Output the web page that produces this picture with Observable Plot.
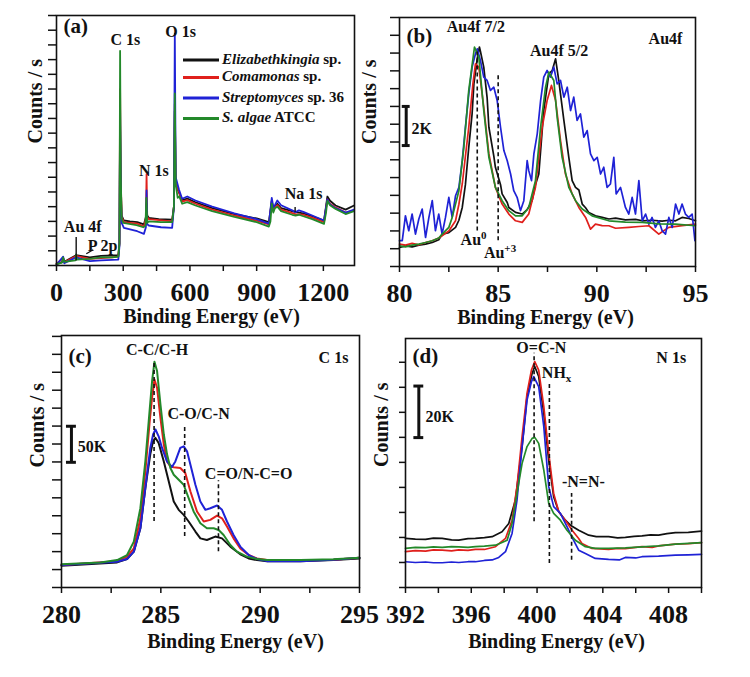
<!DOCTYPE html>
<html>
<head>
<meta charset="utf-8">
<script src="https://cdn.jsdelivr.net/npm/d3@7"></script>
<script src="https://cdn.jsdelivr.net/npm/@observablehq/plot@0.6"></script>
<style>
  body { margin: 0; background: #fff; }
  #fig { position: relative; width: 750px; height: 677px; background: #fff; overflow: hidden; }
  #fig svg { position: absolute; overflow: visible; background: transparent; }
</style>
</head>
<body>
<div id="fig"></div>
<script>
// ---- samples and colours -------------------------------------------------
const seriesNames = ["Elizabethkingia sp.", "Comamonas sp.", "Streptomyces sp. 36", "S. algae ATCC"];
const legendItalic = ["Elizabethkingia", "Comamonas", "Streptomyces", "S. algae"];
const legendPlain = [" sp.", " sp.", " sp. 36", " ATCC"];
const seriesColors = ["#111111", "#e0201c", "#1f22d6", "#23892a"];

// ---- (a) survey spectra: [binding energy eV, counts (tick units)] --------
const surveyElizabethkingia = [[0,0.10],[25,0.22],[30,0.50],[35,0.25],[88,0.70],[150,0.55],[200,0.65],[250,0.68],[278,0.70],[283,1.5],[286,9.5],[289,5.5],[293,3.4],[303,3.06],[330,3.0],[363,2.95],[393,2.79],[402,3.3],[405,4.2],[408,3.4],[415,3.24],[460,3.15],[520,3.11],[528,4.0],[532,10.5],[536,5.5],[551,4.95],[565,4.45],[588,4.55],[625,4.30],[700,3.9],[800,3.5],[900,3.2],[955,2.95],[968,4.4],[975,3.8],[982,4.0],[993,4.2],[1010,3.9],[1075,3.63],[1110,3.55],[1150,3.35],[1203,3.05],[1218,4.69],[1230,4.40],[1255,4.08],[1300,3.8],[1338,4.08]];
const surveyComamonas = [[0,0.10],[30,0.52],[35,0.22],[88,0.65],[150,0.45],[250,0.55],[278,0.6],[283,1.5],[286,12.0],[289,5.8],[293,3.3],[303,2.95],[363,2.85],[393,2.65],[402,3.2],[405,6.2],[408,3.3],[415,3.15],[520,3.0],[528,4.0],[532,11.0],[536,5.5],[551,5.0],[565,4.35],[588,4.45],[625,4.2],[700,3.8],[800,3.4],[900,3.05],[955,2.8],[968,4.35],[975,3.7],[982,3.95],[993,4.1],[1010,3.8],[1075,3.5],[1110,3.45],[1150,3.25],[1203,2.95],[1218,4.5],[1230,4.2],[1255,3.95],[1300,3.6],[1338,3.75]];
const surveyStreptomyces = [[0,0.05],[30,0.60],[35,0.15],[88,0.55],[150,0.30],[200,0.35],[250,0.38],[278,0.40],[283,1.3],[286,10.7],[289,5.0],[293,2.9],[303,2.56],[363,2.33],[393,2.15],[402,2.6],[405,5.1],[408,2.8],[415,2.72],[470,2.6],[520,2.56],[528,4.0],[532,15.76],[536,6.0],[551,5.15],[565,4.54],[588,4.69],[625,4.42],[700,4.0],[800,3.55],[900,3.15],[955,2.85],[968,4.6],[975,3.97],[982,4.1],[993,4.42],[1010,4.1],[1060,3.75],[1075,3.63],[1090,3.75],[1110,3.65],[1150,3.4],[1203,3.06],[1218,4.5],[1230,4.15],[1255,3.9],[1300,3.6],[1338,3.8]];
const surveyAlgae = [[0,0.10],[25,0.20],[30,0.55],[35,0.25],[85,0.35],[88,0.75],[92,0.40],[150,0.45],[200,0.55],[250,0.55],[278,0.60],[283,1.5],[286,14.6],[289,6.0],[293,3.2],[300,2.90],[320,2.85],[360,2.75],[390,2.60],[400,2.70],[404,4.6],[408,2.9],[415,3.00],[470,2.95],[520,2.95],[528,4.0],[532,11.7],[536,5.5],[545,4.6],[552,4.7],[565,4.2],[588,4.31],[625,4.08],[700,3.7],[800,3.3],[900,2.95],[955,2.65],[962,3.0],[968,4.2],[975,3.6],[982,3.9],[993,4.0],[1010,3.7],[1060,3.45],[1075,3.40],[1090,3.45],[1110,3.35],[1150,3.15],[1203,2.83],[1212,3.6],[1218,4.4],[1230,4.1],[1255,3.85],[1300,3.5],[1338,3.7]];

// ---- (b) Au 4f ------------------------------------------------------------
const au4fElizabethkingia = [[80.00,1.07],[80.30,1.16],[80.64,1.10],[80.98,1.20],[81.32,1.26],[81.66,1.35],[81.99,1.50],[82.16,1.82],[82.50,1.90],[82.84,2.20],[83.01,2.60],[83.18,3.32],[83.34,4.60],[83.51,6.70],[83.68,8.60],[83.77,10.27],[83.94,11.70],[84.05,12.34],[84.10,12.10],[84.27,11.21],[84.44,9.50],[84.53,7.83],[84.78,6.20],[84.86,5.58],[85.12,4.60],[85.20,4.08],[85.46,3.60],[85.54,3.32],[85.88,3.04],[86.22,2.95],[86.47,3.20],[86.72,3.70],[86.89,4.60],[87.06,5.20],[87.31,8.77],[87.57,10.84],[87.74,11.02],[87.91,11.68],[88.07,10.46],[88.33,8.21],[88.58,6.14],[88.75,4.83],[88.92,4.45],[89.09,4.30],[89.26,3.51],[89.43,3.30],[89.59,3.04],[89.93,2.85],[90.27,2.76],[90.61,2.67],[90.95,2.72],[91.45,2.62],[91.96,2.65],[92.30,2.57],[92.80,2.60],[93.31,2.55],[93.65,2.60],[93.99,2.57],[94.32,2.76],[94.66,2.70],[95.00,2.57]];
const au4fComamonas = [[80.00,1.26],[80.30,1.20],[80.64,1.30],[80.98,1.22],[81.32,1.35],[81.66,1.45],[81.99,1.60],[82.16,1.73],[82.50,2.00],[82.84,2.57],[83.01,3.50],[83.18,4.64],[83.34,6.20],[83.51,7.83],[83.72,10.27],[83.85,11.40],[84.02,11.21],[84.27,8.96],[84.53,6.33],[84.86,4.45],[85.20,3.51],[85.54,2.95],[85.88,2.57],[86.22,2.48],[86.55,2.95],[86.89,4.45],[87.23,7.83],[87.48,9.33],[87.70,10.18],[87.91,9.33],[88.16,7.08],[88.41,5.20],[88.75,4.08],[89.09,3.32],[89.43,2.76],[89.68,2.10],[89.93,2.38],[90.27,2.30],[90.61,2.29],[90.95,2.15],[91.62,2.20],[92.13,2.25],[92.64,2.29],[93.14,1.82],[93.31,1.95],[93.65,2.20],[94.32,2.30],[95.00,2.38]];
const au4fStreptomyces = [[80.00,1.45],[80.14,1.45],[80.30,2.85],[80.47,2.01],[80.64,2.95],[80.81,1.82],[80.98,2.67],[81.15,3.23],[81.32,1.63],[81.49,2.76],[81.66,3.70],[81.82,2.01],[81.99,2.95],[82.16,1.82],[82.33,2.76],[82.50,3.89],[82.67,2.76],[82.84,3.98],[83.01,4.45],[83.18,5.95],[83.34,7.83],[83.51,9.71],[83.68,11.21],[83.85,11.96],[83.94,12.24],[84.10,11.59],[84.27,10.65],[84.44,10.46],[84.61,9.90],[84.78,10.08],[84.95,9.33],[85.12,7.83],[85.29,6.52],[85.46,5.95],[85.63,5.20],[85.79,4.26],[85.96,3.89],[86.13,3.14],[86.30,3.70],[86.47,5.95],[86.55,5.39],[86.69,4.83],[86.81,6.33],[86.98,7.46],[87.15,9.33],[87.31,10.65],[87.48,11.02],[87.65,10.65],[87.82,11.21],[87.99,10.27],[88.16,10.46],[88.33,9.52],[88.50,10.08],[88.67,8.77],[88.83,9.52],[89.00,8.21],[89.17,8.58],[89.34,7.27],[89.51,7.64],[89.68,6.33],[89.85,5.95],[90.02,6.14],[90.19,5.20],[90.35,5.58],[90.52,4.45],[90.69,4.64],[90.86,6.14],[90.98,4.08],[91.20,4.45],[91.45,3.32],[91.62,2.95],[91.79,3.89],[91.96,2.95],[92.13,4.83],[92.30,2.57],[92.47,2.95],[92.64,2.38],[92.80,2.76],[92.97,2.20],[93.14,2.57],[93.31,2.01],[93.48,1.82],[93.65,2.76],[93.82,2.20],[93.99,3.51],[94.16,2.95],[94.32,3.51],[94.49,2.95],[94.66,2.76],[94.83,2.95],[94.97,1.45]];
const au4fAlgae = [[80.00,1.16],[80.30,1.10],[80.64,1.20],[80.98,1.26],[81.32,1.35],[81.66,1.45],[81.99,1.60],[82.16,1.82],[82.50,2.20],[82.67,2.76],[83.01,4.26],[83.26,6.70],[83.51,9.90],[83.80,12.34],[84.02,11.77],[84.27,8.77],[84.53,6.14],[84.86,4.45],[85.20,3.70],[85.54,3.14],[85.88,2.85],[86.22,2.85],[86.55,3.32],[86.89,4.83],[87.15,7.83],[87.40,10.08],[87.57,10.93],[87.82,10.46],[87.99,8.39],[88.24,6.14],[88.58,4.45],[88.92,3.70],[89.26,3.23],[89.76,2.85],[90.61,2.57],[91.45,2.50],[92.30,2.48],[93.14,2.40],[93.99,2.38],[95.00,2.29]];

// ---- (c) C 1s -------------------------------------------------------------
const c1sElizabethkingia = [[280.00,1.21],[282.80,1.40],[283.30,1.59],[283.64,2.00],[283.97,3.30],[284.22,5.54],[284.47,7.44],[284.61,8.15],[284.73,8.34],[284.89,8.06],[285.15,7.03],[285.40,5.91],[285.65,4.79],[285.90,4.33],[286.15,4.05],[286.40,3.68],[286.74,3.12],[286.99,2.74],[287.32,2.65],[287.74,2.84],[288.08,2.74],[288.50,2.28],[289.00,1.85],[289.42,1.62],[289.84,1.53],[290.34,1.47],[292.02,1.47],[293.69,1.53],[295.00,1.62]];
const c1sComamonas = [[280.00,1.25],[282.80,1.47],[283.30,1.72],[283.64,2.18],[283.97,3.86],[284.22,6.47],[284.44,9.27],[284.56,10.58],[284.68,11.60],[284.81,11.14],[284.98,9.46],[285.15,7.97],[285.31,7.03],[285.48,6.75],[285.65,6.70],[285.98,6.66],[286.23,6.38],[286.49,5.35],[286.82,4.24],[287.16,3.68],[287.49,3.77],[287.83,4.01],[288.08,3.86],[288.33,3.40],[288.66,2.74],[289.00,2.18],[289.42,1.81],[289.84,1.62],[290.34,1.53],[292.02,1.50],[293.69,1.55],[295.00,1.66]];
const c1sStreptomyces = [[280.00,1.25],[282.80,1.44],[283.30,1.59],[283.64,2.00],[283.97,3.30],[284.22,5.54],[284.47,7.78],[284.61,8.53],[284.73,8.81],[284.89,8.43],[285.06,7.78],[285.31,7.03],[285.56,6.72],[285.73,7.03],[285.98,7.78],[286.15,7.87],[286.32,7.59],[286.49,6.85],[286.74,5.73],[286.99,4.79],[287.24,4.33],[287.49,4.42],[287.83,4.57],[288.08,4.33],[288.33,3.68],[288.66,2.93],[289.00,2.28],[289.42,1.81],[289.84,1.59],[290.34,1.47],[292.02,1.47],[293.69,1.55],[295.00,1.66]];
const c1sAlgae = [[280.00,1.29],[281.96,1.40],[282.80,1.53],[283.30,1.81],[283.64,2.56],[283.97,4.42],[284.22,7.03],[284.39,9.27],[284.56,11.51],[284.68,12.59],[284.81,12.07],[284.98,10.21],[285.15,8.53],[285.31,7.44],[285.48,6.66],[285.65,6.29],[285.90,6.01],[286.15,5.73],[286.40,4.98],[286.65,4.24],[286.99,3.58],[287.32,3.30],[287.66,3.30],[287.91,3.21],[288.16,2.93],[288.50,2.37],[288.83,2.00],[289.33,1.72],[289.84,1.59],[290.34,1.53],[292.02,1.53],[293.69,1.57],[295.00,1.66]];

// ---- (d) N 1s -------------------------------------------------------------
const n1sElizabethkingia = [[392.00,1.96],[392.6,1.93],[393.22,1.92],[393.7,1.97],[394.23,1.96],[394.8,1.90],[395.24,1.89],[395.8,1.95],[396.25,1.96],[396.8,1.99],[397.27,2.03],[397.87,2.23],[398.28,2.56],[398.68,3.49],[399.09,5.63],[399.39,7.63],[399.70,8.56],[399.86,8.83],[400.10,8.43],[400.41,6.96],[400.71,5.09],[401.01,3.63],[401.32,3.03],[401.72,2.69],[402.03,2.49],[402.53,2.29],[403.14,2.09],[403.6,2.03],[404.35,2.03],[404.9,1.98],[405.37,2.00],[405.9,2.04],[406.38,2.06],[406.9,2.10],[407.39,2.09],[407.9,2.15],[408.41,2.19],[409.2,2.20],[410.00,2.25]];
const n1sComamonas = [[392.00,1.43],[392.6,1.47],[393.22,1.45],[393.7,1.50],[394.23,1.49],[394.8,1.46],[395.24,1.50],[395.8,1.48],[396.25,1.52],[396.8,1.52],[397.47,1.63],[398.08,1.96],[398.48,2.69],[398.78,4.03],[399.09,6.03],[399.39,7.76],[399.66,8.69],[399.86,9.03],[400.10,8.69],[400.41,7.23],[400.71,5.36],[401.01,3.76],[401.32,3.03],[401.72,2.69],[402.13,2.29],[402.53,1.96],[402.73,1.76],[403.34,1.56],[404.35,1.52],[404.9,1.56],[405.37,1.55],[406.38,1.63],[407.0,1.60],[407.39,1.66],[408.41,1.73],[409.2,1.75],[410.00,1.79]];
const n1sStreptomyces = [[392.00,1.03],[392.6,1.00],[393.22,1.02],[393.7,0.99],[394.23,0.99],[394.8,1.02],[395.24,1.00],[395.8,1.03],[396.25,1.03],[396.8,1.08],[397.27,1.10],[397.67,1.20],[398.08,1.43],[398.48,2.16],[398.78,3.49],[399.09,5.63],[399.39,7.49],[399.66,8.23],[399.80,8.43],[400.10,8.03],[400.41,6.43],[400.71,4.03],[401.01,3.23],[401.42,2.96],[401.82,2.43],[402.13,2.00],[402.53,1.49],[402.94,1.36],[403.54,1.16],[404.35,1.12],[405.0,1.10],[405.37,1.20],[406.0,1.18],[406.38,1.23],[407.39,1.25],[408.41,1.29],[409.2,1.30],[410.00,1.32]];
const n1sAlgae = [[392.00,1.56],[392.6,1.60],[393.22,1.59],[393.7,1.62],[394.23,1.60],[394.8,1.63],[395.24,1.62],[395.8,1.60],[396.25,1.63],[396.8,1.65],[397.47,1.69],[397.87,1.80],[398.18,1.89],[398.48,2.56],[398.78,3.76],[399.09,4.96],[399.39,5.63],[399.70,5.96],[399.86,6.00],[400.10,5.76],[400.41,4.69],[400.71,3.36],[401.01,2.96],[401.42,2.69],[401.82,2.29],[402.33,1.89],[402.94,1.63],[403.54,1.56],[404.35,1.56],[405.37,1.58],[406.38,1.62],[407.39,1.66],[408.41,1.73],[410.00,1.79]];

// ---- axis ticks -------------------------------------------------------------
const surveyTicks = [0, 300, 600, 900, 1200];
const surveyMinorTicks = [150, 450, 750, 1050];
const au4fTicks = [80, 85, 90, 95];
const au4fMinorTicks = [82.5, 87.5, 92.5];
const c1sTicks = [280, 285, 290, 295];
const c1sMinorTicks = [282.5, 287.5, 292.5];
const n1sTicks = [392, 396, 400, 404, 408];
const n1sMinorTicks = [394, 398, 402, 406, 410];

// ---- annotations ----------------------------------------------------------
const surveyPeakLabels = [
  {text: "C 1s", x: 310, y: 15.31}, {text: "O 1s", x: 558, y: 15.92},
  {text: "N 1s", x: 438, y: 6.46}, {text: "Na 1s", x: 1111, y: 4.88},
  {text: "Au 4f", x: 118, y: 2.61}, {text: "P 2p", x: 207, y: 1.36}
];
const surveyPointers = [
  {x1: 88.5, y1: 0.34, x2: 88.5, y2: 1.93},
  {x1: 134, y1: 0.8, x2: 165, y2: 1.07},
  {x1: 1073, y1: 3.63, x2: 1073, y2: 3.97}
];
const au4fLabels = [
  {text: "Au4f 7/2", x: 83.87, y: 13.46}, {text: "Au4f 5/2", x: 88.09, y: 12.15},
  {text: "Au4f", x: 93.48, y: 12.81}
];
const au4fStates = [{base: "Au", sup: "0", x: 83.78, y: 1.48}, {base: "Au", sup: "+3", x: 85.12, y: 0.75}];
const au4fMarkers = [{x: 83.94, y1: 2.0, y2: 12.15}, {x: 85.0, y1: 1.45, y2: 10.74}];
const au4fScaleBar = {x: 80.34, y1: 6.8, y2: 9.0, cap: 0.2, text: "2K", tx: 80.61, ty: 7.74};

const c1sLabels = [
  {text: "C-C/C-H", x: 284.81, y: 13.23}, {text: "C-O/C-N", x: 286.9, y: 9.7},
  {text: "C=O/N-C=O", x: 289.42, y: 6.36}, {text: "C 1s", x: 293.69, y: 12.82}
];
const c1sMarkers = [{x: 284.66, y1: 3.68, y2: 12.63}, {x: 286.2, y1: 2.84, y2: 8.94}, {x: 287.9, y1: 2.0, y2: 5.95}];
const c1sScaleBar = {x: 280.5, y1: 6.98, y2: 8.99, cap: 0.25, text: "50K", tx: 280.82, ty: 7.82};

const n1sLabels = [
  {text: "O=C-N", x: 400.26, y: 9.56}, {text: "-N=N-", x: 402.82, y: 4.23},
  {text: "N 1s", x: 408.16, y: 9.16}
];
const n1sSubLabels = [{base: "NH", sub: "x", x: 401.22, y: 8.56}];
const n1sMarkers = [{x: 399.82, y1: 2.63, y2: 9.36}, {x: 400.75, y1: 0.96, y2: 8.16}, {x: 402.1, y1: 1.09, y2: 3.76}];
const n1sScaleBar = {x: 392.81, y1: 5.99, y2: 8.05, cap: 0.3, text: "20K", tx: 393.22, ty: 6.83};

// ---- drawing --------------------------------------------------------------
const FONT = "'Liberation Serif','Times New Roman',serif";
const INK = "#111111";
const fig = document.getElementById("fig");

function drawPanel(cfg) {
  const txt = {fontFamily: FONT, fontWeight: "bold", fill: INK};
  const marks = [
    Plot.axisY(cfg.yTicks, {tickSize: cfg.yTickSize, tickFormat: () => "", label: null, strokeWidth: 1.5, stroke: INK}),
    Plot.axisX(cfg.xTicks, {tickSize: 6, tickPadding: 11, fontSize: 26, ...txt,
      tickFormat: d => String(d), label: null, strokeWidth: 1.5, stroke: INK}),
    Plot.axisX(cfg.xMinor, {tickSize: 6, tickFormat: () => "", label: null, strokeWidth: 1.5, stroke: INK})
  ];
  cfg.series.forEach((data, i) => {
    marks.push(Plot.line(data, {x: d => d[0], y: d => d[1], stroke: seriesColors[i], strokeWidth: cfg.lineWidth, strokeLinejoin: "round"}));
  });
  if (cfg.markers) {
    marks.push(Plot.ruleX(cfg.markers, {x: "x", y1: "y1", y2: "y2", stroke: INK, strokeWidth: 1.6, strokeDasharray: "4,3"}));
  }
  if (cfg.scaleBar) {
    const b = cfg.scaleBar;
    marks.push(Plot.ruleX([b], {x: "x", y1: "y1", y2: "y2", stroke: INK, strokeWidth: 3}));
    marks.push(Plot.ruleY([b.y1, b.y2], {y: d => d, x1: b.x - b.cap, x2: b.x + b.cap, stroke: INK, strokeWidth: 3}));
    marks.push(Plot.text([b], {x: "tx", y: "ty", text: "text", textAnchor: "start", fontSize: 16, ...txt}));
  }
  if (cfg.pointers) {
    marks.push(Plot.link(cfg.pointers, {x1: "x1", y1: "y1", x2: "x2", y2: "y2", stroke: INK, strokeWidth: 1.4}));
  }
  if (cfg.labels) {
    marks.push(Plot.text(cfg.labels, {x: "x", y: "y", text: "text", fontSize: 16, ...txt}));
  }
  marks.push(Plot.text([cfg.letter], {text: d => d, frameAnchor: "top-left", textAnchor: "start", lineAnchor: "middle",
    dx: cfg.letterDx, dy: cfg.letterDy, fontSize: 21, ...txt}));
  marks.push(Plot.text(["Counts / s"], {text: d => d, frameAnchor: "left", rotate: -90, lineAnchor: "middle",
    dx: cfg.yLabelDx, dy: cfg.yLabelDy, fontSize: 20, ...txt}));
  marks.push(Plot.text(["Binding Energy (eV)"], {text: d => d, frameAnchor: "bottom", lineAnchor: "middle",
    dx: cfg.xLabelDx, dy: cfg.xLabelDy, fontSize: 20, ...txt}));
  marks.push(Plot.frame({stroke: INK, strokeWidth: 1.6}));

  const plot = Plot.plot({
    width: cfg.width, height: cfg.height,
    marginLeft: cfg.m[0], marginRight: cfg.m[1], marginTop: cfg.m[2], marginBottom: cfg.m[3],
    x: {domain: cfg.xDomain},
    y: {domain: cfg.yDomain},
    style: {fontFamily: FONT, fontWeight: "bold", background: "transparent", color: INK},
    marks
  });
  plot.style.left = cfg.left + "px";
  plot.style.top = cfg.top + "px";
  fig.appendChild(plot);
  return plot;
}

// text with a raised or lowered part, placed through the plot's own scales
function scriptLabel(plot, items, key, shift) {
  const sx = plot.scale("x"), sy = plot.scale("y");
  const g = d3.select(plot).append("g")
    .attr("font-family", FONT).attr("font-weight", "bold").attr("fill", INK);
  items.forEach(it => {
    const t = g.append("text")
      .attr("x", sx.apply(it.x)).attr("y", sy.apply(it.y))
      .attr("text-anchor", "middle").attr("dy", "0.32em").attr("font-size", 16);
    t.append("tspan").text(it.base);
    t.append("tspan").attr("font-size", 11).attr("dy", shift).text(it[key]);
  });
}

const plotA = drawPanel({
  left: 0, top: 0, width: 375, height: 330, m: [56, 21, 15, 65],
  xDomain: [0, 1340], yDomain: [0, 17],
  xTicks: surveyTicks, xMinor: surveyMinorTicks,
  yTicks: d3.range(0, 18), yTickSize: 8, lineWidth: 1.8,
  series: [surveyElizabethkingia, surveyComamonas, surveyStreptomyces, surveyAlgae],
  labels: surveyPeakLabels, pointers: surveyPointers,
  letter: "(a)", letterDx: 7, letterDy: 11,
  yLabelDx: -21, yLabelDy: 3, xLabelDx: 6, xLabelDy: 51
});

const plotB = drawPanel({
  left: 375, top: 0, width: 375, height: 330, m: [24, 55, 17, 64],
  xDomain: [80, 95], yDomain: [0, 14],
  xTicks: au4fTicks, xMinor: au4fMinorTicks,
  yTicks: d3.range(0, 15), yTickSize: 9, lineWidth: 1.7,
  series: [au4fElizabethkingia, au4fComamonas, au4fStreptomyces, au4fAlgae],
  labels: au4fLabels, markers: au4fMarkers, scaleBar: au4fScaleBar,
  letter: "(b)", letterDx: 7, letterDy: 19,
  yLabelDx: -30, yLabelDy: 2, xLabelDx: -2, xLabelDy: 51
});
scriptLabel(plotB, au4fStates, "sup", -6);

const plotC = drawPanel({
  left: 0, top: 320, width: 375, height: 357, m: [61, 16, 15, 90],
  xDomain: [280, 295], yDomain: [0, 14.05],
  xTicks: c1sTicks, xMinor: c1sMinorTicks,
  yTicks: d3.range(0, 15), yTickSize: 9, lineWidth: 2,
  series: [c1sElizabethkingia, c1sComamonas, c1sStreptomyces, c1sAlgae],
  labels: c1sLabels, markers: c1sMarkers, scaleBar: c1sScaleBar,
  letter: "(c)", letterDx: 7, letterDy: 21,
  yLabelDx: -24, yLabelDy: 6, xLabelDx: 25, xLabelDy: 54
});

const plotD = drawPanel({
  left: 375, top: 320, width: 375, height: 357, m: [30, 49, 18, 90],
  xDomain: [392, 410], yDomain: [0, 9.95],
  xTicks: n1sTicks, xMinor: n1sMinorTicks,
  yTicks: d3.range(0, 10), yTickSize: 6, lineWidth: 1.7,
  series: [n1sElizabethkingia, n1sComamonas, n1sStreptomyces, n1sAlgae],
  labels: n1sLabels, markers: n1sMarkers, scaleBar: n1sScaleBar,
  letter: "(d)", letterDx: 7, letterDy: 18,
  yLabelDx: -24, yLabelDy: 4, xLabelDx: 3, xLabelDy: 54
});
scriptLabel(plotD, n1sSubLabels, "sub", 4);

// legend of the survey panel
(function legend() {
  const rows = [60, 77.5, 98, 118.5];
  const g = d3.select(plotA).append("g")
    .attr("font-family", FONT).attr("font-weight", "bold").attr("font-size", 15)
    .attr("fill", INK).attr("text-anchor", "start");
  seriesNames.forEach((name, i) => {
    g.append("line").attr("x1", 183).attr("x2", 219).attr("y1", rows[i]).attr("y2", rows[i])
      .attr("stroke", seriesColors[i]).attr("stroke-width", 3);
    const t = g.append("text").attr("x", 222).attr("y", rows[i] - 1).attr("dy", "0.32em")
      .attr("text-anchor", "start");
    t.append("tspan").attr("font-style", "italic").text(legendItalic[i]);
    t.append("tspan").text(legendPlain[i]);
  });
})();
</script>
</body>
</html>
